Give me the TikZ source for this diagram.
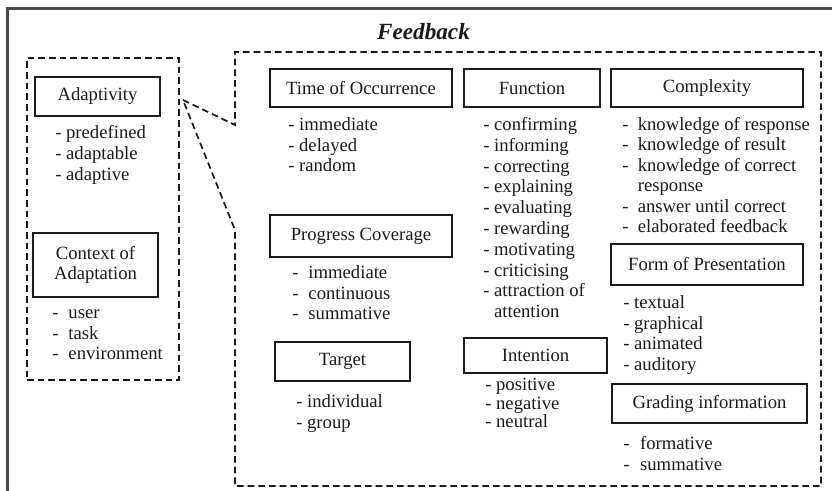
\documentclass[tikz,border=0pt]{standalone}
\usepackage{fontspec}
\setmainfont{Liberation Serif}
\definecolor{ink}{HTML}{1A1A1A}
\definecolor{framegray}{HTML}{4A4A4A}
\begin{document}
\begin{tikzpicture}[x=0.75pt,y=-0.75pt,
  every node/.style={text=ink, font=\fontsize{14}{15.5}\selectfont},
  catbox/.style={draw=ink, line width=1.5pt, inner sep=0pt, align=center},
  dashline/.style={draw=ink, line width=1.3pt, dash pattern=on 5pt off 3pt},
  listnode/.style={anchor=base west, inner sep=0pt}]
\useasboundingbox (0,0) rectangle (832,491);
% outer frame
\draw[framegray, line width=1.9pt] (7.5,491) -- (7.5,8.5) -- (832,8.5);
% title
\node[anchor=base, font=\fontsize{17.4}{20}\selectfont\bfseries\itshape] (title) at (423.5,40) {Feedback};
% left dashed group
\node[dashline, minimum width=114pt, minimum height=241.5pt, inner sep=0pt] (adaptgroup) at (103,219) {};
% callout region
\coordinate (apex) at (183,100);
\coordinate (c1) at (235,125);
\coordinate (c2) at (235,52);
\coordinate (c3) at (821,52);
\coordinate (c4) at (821,486);
\coordinate (c5) at (235,486);
\coordinate (c6) at (235,230);
\draw[dashline] (apex) -- (c1) -- (c2) -- (c3) -- (c4) -- (c5) -- (c6) -- cycle;
% left boxes
\node[catbox, minimum width=93.75pt, minimum height=29.25pt] (adaptivity) at (97.5,96.5) {Adaptivity};
\node[listnode] (adaptlist) at (55,138.5) {\fontsize{14}{15.9}\selectfont\begin{tabular}[t]{@{}l@{}}- predefined\\- adaptable\\- adaptive\end{tabular}};
\node[catbox, minimum width=93.75pt, minimum height=48pt] (context) at (95.5,265) {Context of\\Adaptation};
\node[listnode] (contextlist) at (52,318.5) {\begin{tabular}[t]{@{}l@{\hspace{7.5pt}}l@{}}-&user\\-&task\\-&environment\end{tabular}};
% right boxes
\node[catbox, minimum width=136.5pt, minimum height=28.5pt] (toc) at (361,88) {Time of Occurrence};
\node[listnode] (toclist) at (288,130.5) {\begin{tabular}[t]{@{}l@{}}- immediate\\- delayed\\- random\end{tabular}};
\node[catbox, minimum width=102pt, minimum height=28.5pt] (function) at (532,88) {Function};
\node[listnode] (functionlist) at (483,130.5) {\fontsize{14}{15.6}\selectfont\begin{tabular}[t]{@{}l@{}}- confirming\\- informing\\- correcting\\- explaining\\- evaluating\\- rewarding\\- motivating\\- criticising\\- attraction of\\\phantom{- }attention\end{tabular}};
\node[catbox, minimum width=144pt, minimum height=28.5pt] (complexity) at (707,88) {Complexity};
\node[listnode] (complexitylist) at (622,130.5) {\fontsize{14}{15.3}\selectfont\begin{tabular}[t]{@{}l@{\hspace{7pt}}l@{}}-&knowledge of response\\-&knowledge of result\\-&knowledge of correct\\&response\\-&answer until correct\\-&elaborated feedback\end{tabular}};
\node[catbox, minimum width=136.5pt, minimum height=31.5pt] (progress) at (361,236) {Progress Coverage};
\node[listnode] (progresslist) at (292,278.5) {\begin{tabular}[t]{@{}l@{\hspace{7.5pt}}l@{}}-&immediate\\-&continuous\\-&summative\end{tabular}};
\node[catbox, minimum width=101.25pt, minimum height=29.25pt] (target) at (342.5,361.5) {Target};
\node[listnode] (targetlist) at (296,407.5) {\fontsize{14}{15.75}\selectfont\begin{tabular}[t]{@{}l@{}}- individual\\- group\end{tabular}};
\node[catbox, minimum width=107.25pt, minimum height=26.25pt] (intention) at (535.5,355.5) {Intention};
\node[listnode] (intentionlist) at (485,390.5) {\fontsize{14}{13.9}\selectfont\begin{tabular}[t]{@{}l@{}}- positive\\- negative\\- neutral\end{tabular}};
\node[catbox, minimum width=144pt, minimum height=30.75pt] (form) at (707,264.5) {Form of Presentation};
\node[listnode] (formlist) at (623,308.5) {\begin{tabular}[t]{@{}l@{}}- textual\\- graphical\\- animated\\- auditory\end{tabular}};
\node[catbox, minimum width=146.25pt, minimum height=29.25pt] (grading) at (709.5,403.5) {Grading information};
\node[listnode] (gradinglist) at (623,449.5) {\fontsize{14}{15.75}\selectfont\begin{tabular}[t]{@{}l@{\hspace{8pt}}l@{}}-&formative\\-&summative\end{tabular}};
\end{tikzpicture}
\end{document}
